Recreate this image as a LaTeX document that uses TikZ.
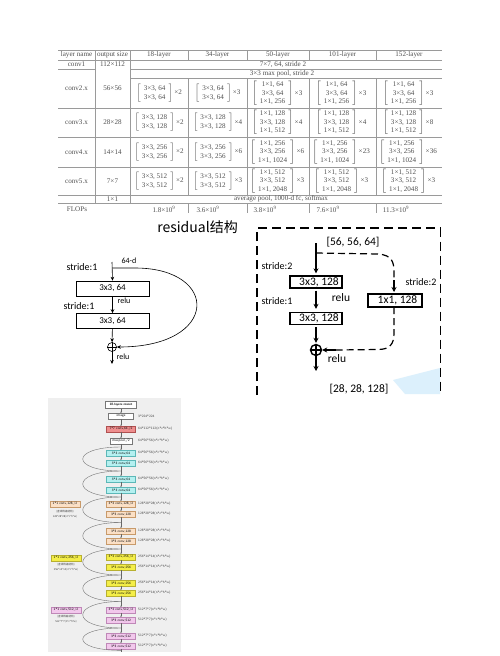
\documentclass[tikz,border=0pt]{standalone}
\usepackage{fontspec}
\setmainfont{Liberation Serif}
\newfontfamily\carl{Carlito}
\newfontfamily\cjk{Noto Sans CJK SC}
\usetikzlibrary{arrows.meta,calc}
\definecolor{tabtxt}{HTML}{505050}
\definecolor{tabline}{HTML}{9A9A9A}
\definecolor{panelbg}{HTML}{EFEFEF}
\definecolor{lblue}{HTML}{DCF0FC}
\definecolor{fW}{HTML}{FFFFFF}\definecolor{dW}{HTML}{777777}
\definecolor{fR}{HTML}{EE8E8E}\definecolor{dR}{HTML}{B05050}
\definecolor{fC}{HTML}{B4F0F0}\definecolor{dC}{HTML}{5CB8B8}
\definecolor{fO}{HTML}{FBE0C6}\definecolor{dO}{HTML}{C89A6A}
\definecolor{fY}{HTML}{F4EE48}\definecolor{dY}{HTML}{B8B030}
\definecolor{fP}{HTML}{F2C8EC}\definecolor{dP}{HTML}{C088B8}
\newcommand\tabf{\fontsize{7.1}{8.8}\selectfont}
\newcommand\blkB[3]{$\left[\begin{tabular}{@{\hspace{3pt}}c@{\hspace{3pt}}}#1\\#2\end{tabular}\right]$\,×#3}
\newcommand\blkC[4]{\def\arraystretch{0.95}$\left[\begin{tabular}{@{\hspace{3pt}}c@{\hspace{3pt}}}#1\\#2\\#3\end{tabular}\right]$\,×#4}
\begin{document}
\begin{tikzpicture}[x=1pt,y=-1pt,
  tt/.style={font=\tabf, text=tabtxt, inner sep=0pt},
  tl/.style={draw=tabline, line width=0.5pt},
  lbox/.style={draw, line width=0.5pt, minimum width=73pt, minimum height=15pt, inner sep=0pt, font=\carl\fontsize{9}{10}\selectfont},
  lbl/.style={inner sep=0pt, font=\carl\fontsize{10}{11}\selectfont},
  lsm/.style={inner sep=0pt, font=\carl\fontsize{8}{9}\selectfont},
  larr/.style={line width=0.6pt, -{Stealth[length=4pt,width=3.5pt]}},
  rbox/.style={draw, line width=1.3pt, minimum width=52pt, minimum height=12pt, inner sep=0pt, font=\carl\fontsize{11.5}{12}\selectfont},
  rlbl/.style={inner sep=0pt, font=\carl\fontsize{11.5}{12}\selectfont},
  rst/.style={inner sep=0pt, font=\carl\fontsize{10}{11}\selectfont},
  rarr/.style={line width=1.2pt, -{Stealth[length=5pt,width=5pt]}},
  rdash/.style={line width=1.2pt, dash pattern=on 7pt off 4pt},
  nb/.style={line width=0.3pt, minimum width=29pt, minimum height=5.5pt, inner sep=0pt, font=\sffamily\fontsize{3.4}{4}\selectfont},
  nl/.style={inner sep=0pt, text=black!75, font=\sffamily\fontsize{3.4}{4}\selectfont},
  chain/.style={draw=black!60, line width=0.3pt, -{Stealth[length=1.5pt,width=1.4pt]}},
  loopc/.style={draw=black!55, line width=0.4pt}
]
\useasboundingbox (0,0) rectangle (500,656);
\fill[white] (0,0) rectangle (500,656);

% ================= TABLE =================
\draw[tl] (58,50) -- (442,50);
\draw[tl] (58,60) -- (442,60);
\draw[tl] (58,69) -- (95,69);
\draw[tl] (130,69) -- (442,69);
\draw[tl] (130,78) -- (442,78);
\foreach \yy in {108,137,167,195,203} \draw[tl] (58,\yy) -- (442,\yy);
\draw[tl] (95,50) -- (95,203);
\draw[tl] (130,50) -- (130,203);
\foreach \xx in {188,247,309,376} {
  \draw[tl] (\xx,50) -- (\xx,60);
  \draw[tl] (\xx,78) -- (\xx,195);
  \draw[tl] (\xx,203) -- (\xx,213);
}
\node[tt] (h1) at (76.5,55) {layer name};
\node[tt] (h2) at (112.5,55) {output size};
\node[tt] (h3) at (159,55) {18-layer};
\node[tt] (h4) at (217.5,55) {34-layer};
\node[tt] (h5) at (278,55) {50-layer};
\node[tt] (h6) at (342.5,55) {101-layer};
\node[tt] (h7) at (409,55) {152-layer};

\node[tt] (c1a) at (76.5,64.5) {conv1};
\node[tt] (c1b) at (112.5,64.5) {112×112};
\node[tt] (c1c) at (283,64.3) {7×7, 64, stride 2};
\node[tt] (mp) at (282,73.3) {3×3 max pool, stride 2};

\node[tt] (c2a) at (76.5,88.5) {conv2.x};
\node[tt] (c2b) at (112.5,88.5) {56×56};
\node[tt] (c3a) at (76.5,122.5) {conv3.x};
\node[tt] (c3b) at (112.5,122.5) {28×28};
\node[tt] (c4a) at (76.5,152) {conv4.x};
\node[tt] (c4b) at (112.5,152) {14×14};
\node[tt] (c5a) at (76.5,181) {conv5.x};
\node[tt] (c5b) at (112.5,181) {7×7};

\node[tt] (b23) at (159,93) {\blkB{3×3, 64}{3×3, 64}{2}};
\node[tt] (b33) at (159,122.5) {\blkB{3×3, 128}{3×3, 128}{2}};
\node[tt] (b43) at (159,152) {\blkB{3×3, 256}{3×3, 256}{2}};
\node[tt] (b53) at (159,181) {\blkB{3×3, 512}{3×3, 512}{2}};

\node[tt] (b24) at (217.5,93) {\blkB{3×3, 64}{3×3, 64}{3}};
\node[tt] (b34) at (217.5,122.5) {\blkB{3×3, 128}{3×3, 128}{4}};
\node[tt] (b44) at (217.5,152) {\blkB{3×3, 256}{3×3, 256}{6}};
\node[tt] (b54) at (217.5,181) {\blkB{3×3, 512}{3×3, 512}{3}};

\node[tt] (b25) at (277,93.5) {\blkC{1×1, 64}{3×3, 64}{1×1, 256}{3}};
\node[tt] (b35) at (277,122.5) {\blkC{1×1, 128}{3×3, 128}{1×1, 512}{4}};
\node[tt] (b45) at (277,152) {\blkC{1×1, 256}{3×3, 256}{1×1, 1024}{6}};
\node[tt] (b55) at (277,181) {\blkC{1×1, 512}{3×3, 512}{1×1, 2048}{3}};

\node[tt] (b26) at (341,93.5) {\blkC{1×1, 64}{3×3, 64}{1×1, 256}{3}};
\node[tt] (b36) at (341,122.5) {\blkC{1×1, 128}{3×3, 128}{1×1, 512}{4}};
\node[tt] (b46) at (341,152) {\blkC{1×1, 256}{3×3, 256}{1×1, 1024}{23}};
\node[tt] (b56) at (341,181) {\blkC{1×1, 512}{3×3, 512}{1×1, 2048}{3}};

\node[tt] (b27) at (408,93.5) {\blkC{1×1, 64}{3×3, 64}{1×1, 256}{3}};
\node[tt] (b37) at (408,122.5) {\blkC{1×1, 128}{3×3, 128}{1×1, 512}{8}};
\node[tt] (b47) at (408,152) {\blkC{1×1, 256}{3×3, 256}{1×1, 1024}{36}};
\node[tt] (b57) at (408,181) {\blkC{1×1, 512}{3×3, 512}{1×1, 2048}{3}};

\node[tt] (avg1) at (112.5,199) {1×1};
\node[tt] (avg2) at (281,199) {average pool, 1000-d fc, softmax};
\node[tt] (fl0) at (77,209) {FLOPs};
\node[tt] (fl1) at (164,209) {1.8×10\textsuperscript{9}};
\node[tt] (fl2) at (208,209) {3.6×10\textsuperscript{9}};
\node[tt] (fl3) at (265,209) {3.8×10\textsuperscript{9}};
\node[tt] (fl4) at (328,209) {7.6×10\textsuperscript{9}};
\node[tt] (fl5) at (396,209) {11.3×10\textsuperscript{9}};

% ================= TITLE =================
\node[inner sep=0pt, font=\cjk\fontsize{14}{16}\selectfont] (title) at (197.5,227) {residual结构};

% ================= LEFT RESIDUAL =================
\node[lbox] (lb1) at (112.5,288.5) {3x3, 64};
\node[lbox] (lb2) at (112.5,321) {3x3, 64};
\node[circle, draw, line width=0.6pt, minimum size=9pt, inner sep=0pt] (lp) at (112,347) {};
\draw[line width=0.6pt] (lp.north) -- (lp.south) (lp.west) -- (lp.east);
\node[lbl] (ls1) at (82,267) {stride:1};
\node[lbl] (ls2) at (79,306) {stride:1};
\node[lsm] (l64) at (129,261) {64-d};
\node[lsm] (lr1) at (124,301) {relu};
\node[lsm] (lr2) at (123,357) {relu};
\coordinate (ltop) at (112,262);
\coordinate (lsplit) at (112,268);
\coordinate (lbot) at (112,364);
\draw[larr] (ltop) -- (lb1.north);
\draw[larr] (lb1) -- (lb2);
\draw[larr] (lb2) -- (lp);
\draw[larr] (lp) -- (lbot);
\draw[larr] (lsplit) -- (135,268) .. controls (220,268) and (220,347) .. (lp.east);

% ================= RIGHT RESIDUAL =================
\fill[lblue] (393,380) -- (440,368) -- (440,394) -- (405,394) -- cycle;
\draw[line width=1.3pt, dash pattern=on 9pt off 5pt] (257,395) -- (257,228) -- (440.5,228) -- (440.5,395);
\node[rlbl] (rin) at (353,242) {[56, 56, 64]};
\node[rbox] (rb1) at (316,282) {\hspace{6pt}3x3, 128};
\node[rbox] (rb2) at (316,318.5) {\hspace{6pt}3x3, 128};
\node[rbox, minimum width=54pt, minimum height=13pt] (rb3) at (395,300.5) {\hspace{5pt}1x1, 128};
\node[circle, draw, line width=1.4pt, minimum size=11pt, inner sep=0pt] (rp) at (316,350) {};
\draw[line width=1.8pt] ([yshift=-1pt]rp.north) -- ([yshift=1pt]rp.south) ([xshift=1pt]rp.west) -- ([xshift=-1pt]rp.east);
\node[rst] (rs1) at (277,266) {stride:2};
\node[rst] (rs2) at (277,301) {stride:1};
\node[rst] (rs3) at (421,282) {stride:2};
\node[rlbl] (rr1) at (341,298) {relu};
\node[rlbl] (rr2) at (337,359) {relu};
\node[rlbl] (rout) at (359,389) {[28, 28, 128]};
\coordinate (rtop) at (316,243);
\coordinate (rsplit) at (316,253);
\coordinate (rbot) at (316,371);
\coordinate (rb3in) at (394,280);
\coordinate (rb3top) at (394,292);
\coordinate (rb3bot) at (394,307);
\coordinate (rjoin) at (336,350);
\draw[rarr, shorten >=2pt] (rtop) -- (rb1.north);
\draw[rarr, shorten <=2pt, shorten >=3pt] (rb1) -- (rb2);
\draw[rarr, shorten <=2pt, shorten >=1pt] (rb2) -- (rp);
\draw[rarr] (rp) -- (rbot);
\draw[rdash] (rsplit) -- (378,254) .. controls (392,255) and (394,262) .. (394,272) -- (rb3in);
\draw[rarr] (rb3in) -- (rb3top);
\draw[rdash] (rb3bot) -- (394,333) .. controls (394,344) and (390,349.5) .. (378,349.5) -- (rjoin);
\draw[rarr] (rjoin) -- (rp.east);

% ================= NETWORK PANEL =================
\fill[panelbg] (48,398) rectangle (181,652);
\node[nb, draw=dW, fill=white, minimum width=31pt, minimum height=7pt, font=\sffamily\bfseries\fontsize{3.2}{4}\selectfont] (n0) at (121,405) {18-layers resnet};
\foreach \i/\y/\f/\d/\w/\t/\l in {
 1/416/fW/dW/25/{image}/{3*224*224},
 2/429/fR/dR/29/{7*7 conv,64,/2}/{64*112*112(n*c*h*w)},
 3/441/fW/dW/22/{maxpool,/2}/{64*56*56(n*c*h*w)},
 4/453/fC/dC/29/{3*3 conv,64}/{64*56*56(n*c*h*w)},
 5/463/fC/dC/29/{3*3 conv,64}/{64*56*56(n*c*h*w)},
 6/479/fC/dC/29/{3*3 conv,64}/{64*56*56(n*c*h*w)},
 7/490/fC/dC/29/{3*3 conv,64}/{64*56*56(n*c*h*w)},
 8/504/fO/dO/29/{3*3 conv,128,/2}/{128*28*28(n*c*h*w)},
 9/514/fO/dO/29/{3*3 conv,128}/{128*28*28(n*c*h*w)},
 10/531/fO/dO/29/{3*3 conv,128}/{128*28*28(n*c*h*w)},
 11/541/fO/dO/29/{3*3 conv,128}/{128*28*28(n*c*h*w)},
 12/557/fY/dY/29/{3*3 conv,256,/2}/{256*14*14(n*c*h*w)},
 13/567/fY/dY/29/{3*3 conv,256}/{256*14*14(n*c*h*w)},
 14/583/fY/dY/29/{3*3 conv,256}/{256*14*14(n*c*h*w)},
 15/593/fY/dY/29/{3*3 conv,256}/{256*14*14(n*c*h*w)},
 16/610/fP/dP/29/{3*3 conv,512,/2}/{512*7*7(n*c*h*w)},
 17/620/fP/dP/29/{3*3 conv,512}/{512*7*7(n*c*h*w)},
 18/636/fP/dP/29/{3*3 conv,512}/{512*7*7(n*c*h*w)},
 19/646/fP/dP/29/{3*3 conv,512}/{512*7*7(n*c*h*w)}} {
  \node[nb, fill=\f, draw=\d, minimum width=\w pt] (n\i) at (121,\y) {\t};
  \node[nl, anchor=west] (l\i) at (138,\y) {\l};
}
\node[inner sep=0pt, minimum size=0pt] (n20) at (121,652) {};
\foreach \i [evaluate=\i as \j using {int(\i+1)}] in {0,...,18} \draw[chain] (n\i) -- (n\j);
\draw[draw=black!60, line width=0.3pt] (n19) -- (n20);
\foreach \a/\b/\p/\q in {4/5/3/6, 6/7/5/8, 8/9/7/10, 10/11/9/12, 12/13/11/14, 14/15/13/16, 16/17/15/18, 18/19/17/20} {
  \draw[loopc] ($(n\p.south)!0.5!(n\a.north)$) .. controls ($(n\p.south)!0.5!(n\a.north)+(-51,0)$) and ($(n\b.south)!0.5!(n\q.north)+(-51,0)$) .. ($(n\b.south)!0.5!(n\q.north)$);
}
\node[nb, fill=fO, draw=dO, minimum width=30pt] (s1) at (65,504) {1*1 conv,128,/2};
\node[nl, align=center, font=\cjk\fontsize{2.6}{4.6}\selectfont] (s1t) at (65,514) {(虚线残差结构)\\128*28*28(n*c*h*w)};
\node[nb, fill=fY, draw=dY, minimum width=30pt] (s2) at (66,558) {1*1 conv,256,/2};
\node[nl, align=center, font=\cjk\fontsize{2.6}{4.6}\selectfont] (s2t) at (66,567) {(虚线残差结构)\\256*14*14(n*c*h*w)};
\node[nb, fill=fP, draw=dP, minimum width=30pt] (s3) at (66,610) {1*1 conv,512,/2};
\node[nl, align=center, font=\cjk\fontsize{2.6}{4.6}\selectfont] (s3t) at (66,619) {(虚线残差结构)\\512*7*7(n*c*h*w)};
\end{tikzpicture}
\end{document}
